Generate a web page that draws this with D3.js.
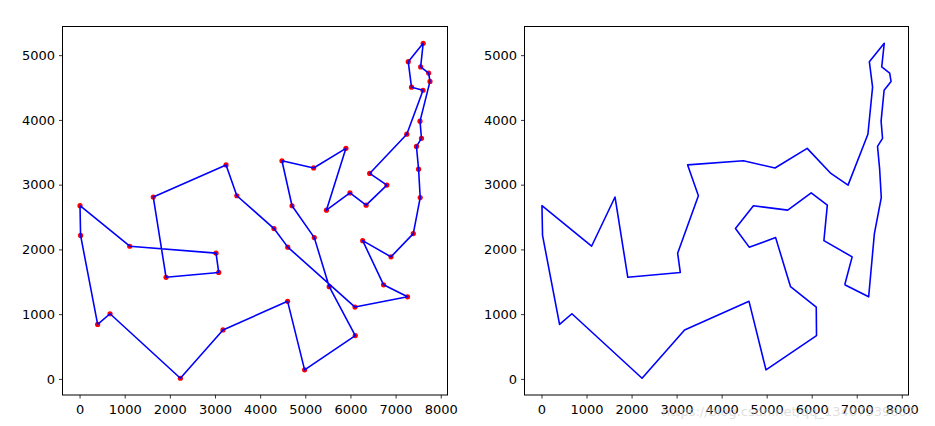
<!DOCTYPE html>
<html>
<head>
<meta charset="utf-8">
<script src="https://cdn.jsdelivr.net/npm/d3@7"></script>
<style>
  html, body { margin: 0; padding: 0; background: #fff; }
  svg { display: block; }
  .tick text { font-family: "DejaVu Sans", sans-serif; font-size: 13px; fill: #000; }
</style>
</head>
<body>
<svg id="chart" width="935" height="426"></svg>
<script>
// att48 city coordinates (city 1..48)
const cityX = [6734,2233,5530,401,3082,7608,7573,7265,6898,1112,5468,5989,4706,4612,6347,6107,7611,7462,7732,5900,4483,6101,5199,1633,4307,675,7555,7541,3177,7352,7545,3245,6426,4608,23,7248,7762,7392,3484,6271,4985,1916,7280,7509,10,6807,5185,3023];
const cityY = [1453,10,1424,841,1644,4458,3716,1268,1885,2049,2606,2873,2674,2035,2683,669,5184,3590,4723,3561,3369,1110,2182,2809,2322,1006,4819,3981,756,4506,2801,3305,3173,1198,2216,3779,4595,2244,2829,2135,140,1569,4899,3239,2676,2993,3258,1942];

// left: tour found (1-based city ids), right: improved tour
const tourLeft = [45,35,4,26,2,29,34,41,16,3,23,13,21,47,20,11,12,15,46,33,36,6,30,43,17,27,19,37,28,7,18,44,31,38,9,40,1,8,22,14,25,39,32,24,42,5,48,10];
const tourRight = [1,8,38,31,44,18,7,28,6,37,19,27,17,43,30,36,46,33,20,47,21,32,39,48,5,42,24,10,45,35,4,26,2,29,34,41,16,22,3,23,14,25,13,11,12,15,40,9];

const xTicks = [0,1000,2000,3000,4000,5000,6000,7000,8000];
const yTicks = [0,1000,2000,3000,4000,5000];

const svg = d3.select("#chart");

const xExt = d3.extent(cityX), yExt = d3.extent(cityY);
const xPad = (xExt[1]-xExt[0])*0.05, yPad = (yExt[1]-yExt[0])*0.05;

const panels = [
  {left: 62.5, right: 447.5, tour: tourLeft, dots: true},
  {left: 524.5, right: 908.5, tour: tourRight, dots: false}
];
const plotTop = 26.5, plotBottom = 395;

panels.forEach(p => {
  const x = d3.scaleLinear().domain([xExt[0]-xPad, xExt[1]+xPad]).range([p.left, p.right]);
  const y = d3.scaleLinear().domain([yExt[0]-yPad, yExt[1]+yPad]).range([plotBottom, plotTop]);
  const g = svg.append("g");

  const clipId = "clip" + Math.round(p.left);
  svg.append("clipPath").attr("id", clipId).append("rect")
    .attr("x", p.left).attr("y", plotTop).attr("width", p.right-p.left).attr("height", plotBottom-plotTop);

  const plot = g.append("g").attr("clip-path", `url(#${clipId})`);

  if (p.dots) {
    plot.selectAll("circle").data(d3.range(cityX.length)).join("circle")
      .attr("cx", i => x(cityX[i])).attr("cy", i => y(cityY[i]))
      .attr("r", 2.6).attr("fill", "#ff0000");
  }
  const pts = p.tour.map(c => [x(cityX[c-1]), y(cityY[c-1])]);
  pts.push(pts[0]);
  plot.append("path").attr("d", d3.line()(pts))
    .attr("fill", "none").attr("stroke", "#0000ff").attr("stroke-width", 1.6)
    .attr("stroke-linejoin", "round");

  const ax = g.append("g").attr("transform", `translate(0,${plotBottom})`)
    .call(d3.axisBottom(x).tickValues(xTicks).tickSize(3.5).tickPadding(6).tickFormat(d3.format("d")));
  const ay = g.append("g").attr("transform", `translate(${p.left},0)`)
    .call(d3.axisLeft(y).tickValues(yTicks).tickSize(3.5).tickPadding(4).tickFormat(d3.format("d")));
  [ax, ay].forEach(a => { a.select(".domain").remove(); a.selectAll(".tick line").attr("stroke", "#000").attr("stroke-width", 0.8); });

  g.append("rect").attr("x", p.left).attr("y", plotTop).attr("width", p.right-p.left).attr("height", plotBottom-plotTop)
    .attr("fill", "none").attr("stroke", "#000").attr("stroke-width", 1);
});

svg.append("text").attr("x", 662).attr("y", 416)
  .attr("font-family", "DejaVu Sans, sans-serif").attr("font-size", 13)
  .attr("fill", "#c8c8c8").attr("fill-opacity", 0.6)
  .text("https://blog.csdn.net/qq_13407339607");
</script>
</body>
</html>
